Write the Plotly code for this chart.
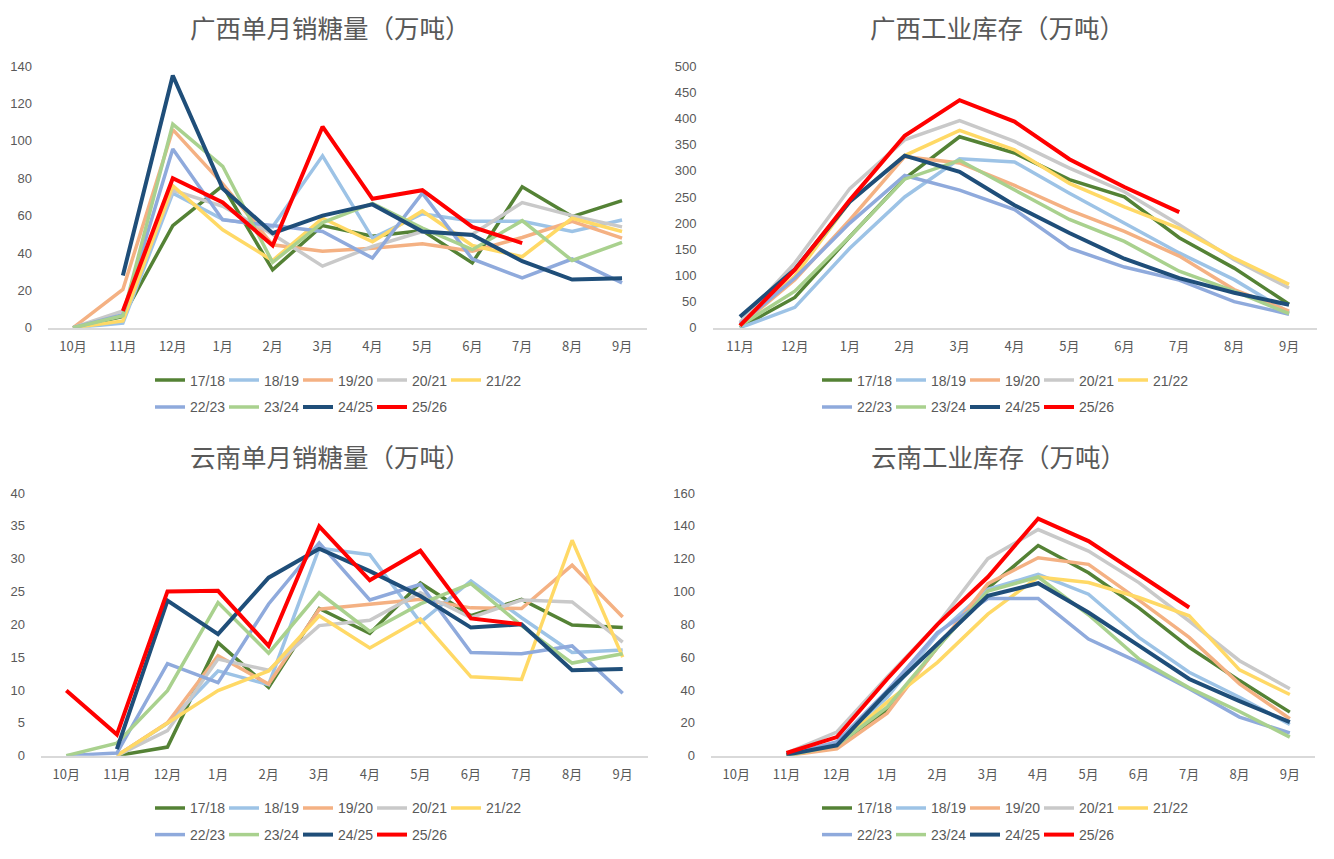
import plotly.graph_objects as go

# page is 1334x859, the html body has an 8px margin, so the figure is 16px smaller
PAGE_W, PAGE_H = 1334, 859
OFF = 8
W, H = PAGE_W - 2 * OFF, PAGE_H - 2 * OFF
# vertical correction measured on the rendered page
VSCALE, VSHIFT = 0.98, 5.8

SEASONS = ["17/18", "18/19", "19/20", "20/21", "21/22", "22/23", "23/24", "24/25", "25/26"]
COLORS = ["#548235", "#9DC3E6", "#F4B183", "#C9C9C9", "#FFD966",
          "#8FAADC", "#A9D18E", "#1F4E79", "#FF0000"]

MONTHS_OCT = ["10月", "11月", "12月", "1月", "2月", "3月", "4月", "5月", "6月", "7月", "8月", "9月"]
MONTHS_NOV = ["11月", "12月", "1月", "2月", "3月", "4月", "5月", "6月", "7月", "8月", "9月"]

# 广西单月销糖量 (10月-9月)
gx_sales = [
    [0, 6, 54.7, 76, 31, 54.7, 49, 52, 34.7, 75.4, 59.5, 68],
    [0, 2.5, 72, 58, 54, 92, 48, 61, 57, 57, 51.5, 57.7],
    [0, 20.5, 106, 77, 44.4, 41, 42.6, 45, 41, 48.3, 57, 48],
    [0, 9, 73.6, 65, 50, 33, 43.5, 51.5, 50, 67, 60, 54],
    [0, 3.7, 76, 52.4, 36, 58.6, 46, 62.5, 44, 38, 58.6, 51.5],
    [0, 7, 95.7, 57.7, 54.7, 51.5, 37.3, 72, 36.8, 26.7, 36.8, 24],
    [0, 6.4, 109, 86.4, 35, 56.3, 66.5, 53.3, 41.8, 57.3, 36, 45.7],
    [None, 28, 135, 74.5, 50.6, 60, 66, 51.5, 49.7, 35.6, 25.8, 26.5],
    [None, 9, 80, 67, 44, 107.6, 69, 73.6, 54, 45.3, None, None],
]

# 广西工业库存 (11月-9月)
gx_stock = [
    [0, 58, 174, 285, 365, 334, 283, 250, 172, 114, 45],
    [0, 39, 152, 250, 323, 317, 257, 200, 143, 92, 29],
    [4, 92, 206, 327, 315, 272, 225, 184, 137, 73, 32],
    [10, 124, 266, 359, 396, 356, 305, 260, 197, 130, 76],
    [4, 99, 241, 329, 377, 340, 276, 231, 190, 133, 83],
    [7, 95, 200, 291, 263, 226, 152, 116, 91, 50, 26],
    [4, 70, 174, 284, 320, 263, 207, 165, 108, 70, 27],
    [21, 112, 241, 329, 298, 234, 181, 132, 95, 67, 44],
    [4, 111, 244, 367, 435, 394, 322, 269, 221, None, None],
]

# 云南单月销糖量 (10月-9月)
yn_sales = [
    [None, 0, 1.3, 17.2, 10.4, 22.4, 18.6, 26.3, 21.3, 23.8, 19.9, 19.5],
    [None, 0, 4.9, 12.9, 10.8, 31.6, 30.6, 20.3, 26.6, 21, 15.7, 16.1],
    [None, 0, 5, 15.2, 10.9, 22.3, 23, 23.8, 22.5, 22.4, 29, 21.1],
    [None, 0, 3.8, 14.7, 13, 19.8, 20.6, 24.8, 21, 23.7, 23.4, 17.3],
    [None, 0, 4.9, 9.9, 12.9, 21.3, 16.4, 20.8, 12, 11.6, 32.8, 15],
    [0, 0.4, 14, 11.1, 23.1, 32.4, 23.7, 26.1, 15.7, 15.5, 16.7, 9.5],
    [0, 1.9, 9.9, 23.3, 15.6, 24.8, 18.9, 23.1, 26.2, 19.8, 14.1, 15.5],
    [None, 1, 23.6, 18.5, 27.1, 31.5, 28.1, 24.3, 19.5, 20, 13, 13.2],
    [9.9, 3.2, 25, 25.1, 16.7, 34.9, 26.7, 31.2, 20.9, 20, None, None],
]

# 云南工业库存 (10月-9月)
yn_stock = [
    [None, 0.2, 6.3, 27.5, 66, 102, 128, 111.4, 90, 66, 45.7, 26.5],
    [None, 0, 8.3, 35.6, 74, 101.3, 110.4, 98.3, 72, 50.8, 35.6, 19],
    [None, 0, 4.2, 25.9, 66, 104.8, 120.5, 116.5, 94.7, 72, 43.7, 22.5],
    [None, 1.6, 14.4, 48, 80, 120, 137.7, 124.6, 105.4, 82, 57.8, 40.7],
    [None, 0, 6.3, 32.6, 56.8, 86.2, 108.8, 105.4, 96.3, 85.2, 52.2, 37.2],
    [None, 0, 8.3, 39.6, 75, 95.7, 95.7, 71, 56.8, 40.7, 23.5, 13.8],
    [None, 0, 6.3, 29.5, 66, 100.3, 108.8, 85.8, 58.9, 41.3, 26.9, 11.3],
    [None, 0.6, 6.3, 38.6, 68, 97.3, 105, 87.2, 67, 46.7, 33.2, 20.4],
    [None, 1.6, 11.3, 46.7, 80, 108.8, 144.4, 130.7, 110.4, 90.2, None, None],
]

TXT = "#595959"
FONT = "Noto Sans CJK SC"


def px_x(px):
    return (px - OFF) / W


def px_y(py):
    py = (py - VSHIFT) / VSCALE
    return 1 - (py - OFF) / H


# title, months, data, ymax, dtick, plot x0/x1, plot top/bottom, title centre x/y, legend x, legend rows y (page px)
panels = [
    ("广西单月销糖量（万吨）", MONTHS_OCT, gx_sales, 140, 20, 48, 647, 65, 328, 330, 25, 150, (381, 408)),
    ("广西工业库存（万吨）", MONTHS_NOV, gx_stock, 500, 50, 712.5, 1316.5, 65, 328, 997, 25, 817, (381, 408)),
    ("云南单月销糖量（万吨）", MONTHS_OCT, yn_sales, 40, 5, 41, 648, 494, 758, 330, 456, 150, (811, 838)),
    ("云南工业库存（万吨）", MONTHS_OCT, yn_stock, 160, 20, 711, 1315, 494, 758, 998, 456, 817, (811, 838)),
]

fig = go.Figure()
annotations = []
layout = {}

for p, (title, months, data, ymax, dtick, x0, x1, yt, yb, tx, ty, lx, rows) in enumerate(panels):
    n = p + 1
    xa = "xaxis" if n == 1 else f"xaxis{n}"
    ya = "yaxis" if n == 1 else f"yaxis{n}"
    xref = "x" if n == 1 else f"x{n}"
    yref = "y" if n == 1 else f"y{n}"
    leg_a = f"legend{2 * p + 1}" if p > 0 else "legend"
    leg_b = f"legend{2 * p + 2}"

    for i, (name, vals) in enumerate(zip(SEASONS, data)):
        last_in_row = i in (4, 8)
        fig.add_trace(go.Scatter(
            x=months, y=vals, name=name, mode="lines",
            line=dict(color=COLORS[i], width=4 if i >= 7 else 3.5),
            connectgaps=False,
            xaxis=xref, yaxis=yref,
            legend=leg_a if i < 5 else leg_b,
            legendwidth=45 if last_in_row else None,
        ))

    layout[xa] = dict(
        domain=[px_x(x0), px_x(x1)], anchor=yref, type="category",
        categoryorder="array", categoryarray=months,
        range=[-0.5, len(months) - 0.5],
        showline=True, linecolor="#D9D9D9", linewidth=1.5,
        showgrid=False, zeroline=False, ticks="", fixedrange=True,
        ticklabelstandoff=6,
        tickfont=dict(family=FONT, size=13, color=TXT),
    )
    layout[ya] = dict(
        domain=[px_y(yb), px_y(yt)], anchor=xref,
        range=[0, ymax], dtick=dtick, tick0=0,
        showline=False, showgrid=False, zeroline=False, ticks="",
        ticklabelstandoff=15,
        tickfont=dict(family="Liberation Sans", size=13, color=TXT),
    )
    for k, leg in enumerate((leg_a, leg_b)):
        layout[leg] = dict(
            orientation="h", x=px_x(lx), y=px_y(rows[k]),
            xanchor="left", yanchor="middle",
            xref="paper", yref="paper",
            font=dict(family="Liberation Sans", size=14, color=TXT),
            itemwidth=30, entrywidth=29, entrywidthmode="pixels",
            bgcolor="rgba(0,0,0,0)", borderwidth=0,
            traceorder="normal", itemclick=False, itemdoubleclick=False,
        )
    annotations.append(dict(
        text=title, x=px_x(tx), y=px_y(ty),
        xref="paper", yref="paper", xanchor="center", yanchor="middle",
        showarrow=False, font=dict(family=FONT, size=25.5, color=TXT),
    ))

fig.update_layout(
    width=W, height=H,
    margin=dict(l=0, r=0, t=0, b=0),
    paper_bgcolor="#FFFFFF", plot_bgcolor="#FFFFFF",
    annotations=annotations,
    **layout,
)

fig.write_html("out.html")
